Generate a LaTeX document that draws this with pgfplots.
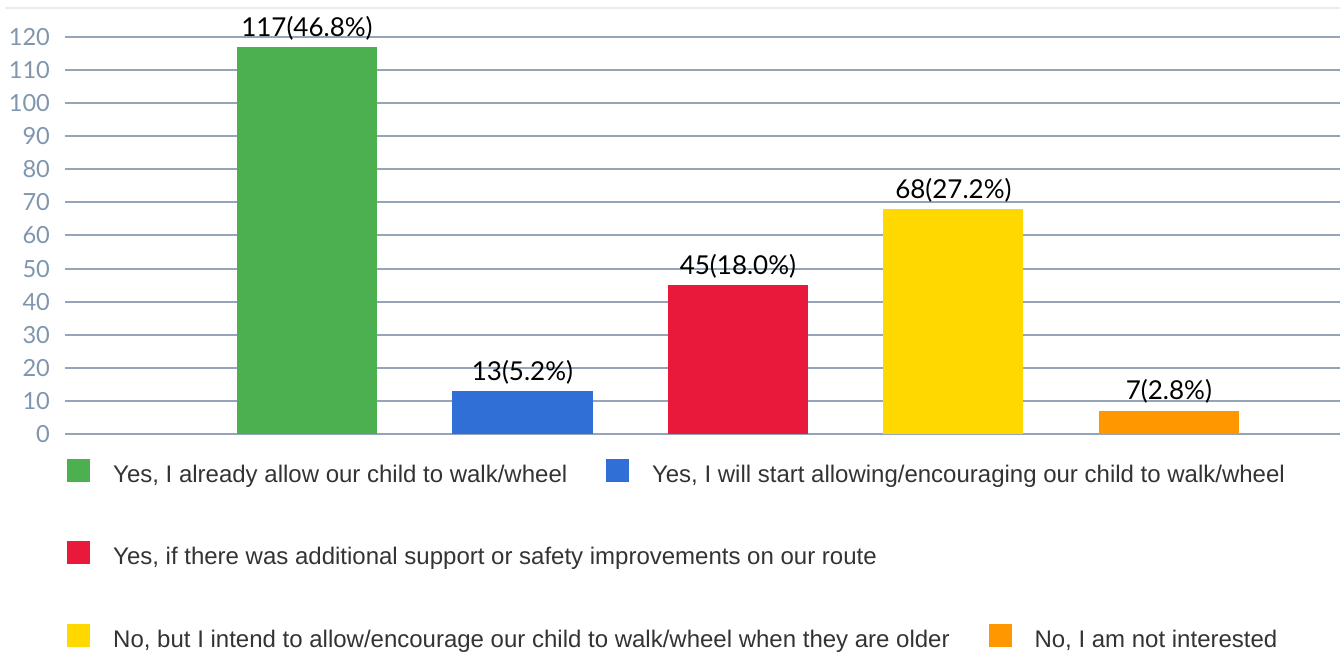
\documentclass[border=0pt]{standalone}
\usepackage{fontspec}
\setmainfont{Lato}
\newfontfamily\legendfont{Liberation Sans}
\usepackage{pgfplots}
\pgfplotsset{compat=1.18}

\definecolor{cgreen}{HTML}{4CAF50}
\definecolor{cblue}{HTML}{2F6FD6}
\definecolor{cred}{HTML}{E8193A}
\definecolor{cyellow}{HTML}{FFD800}
\definecolor{corange}{HTML}{FF9800}
\definecolor{tickgray}{HTML}{7F96AE}
\definecolor{gridgray}{HTML}{95A5B7}
\definecolor{legtext}{HTML}{333333}

% shared frame: 1px of the reference = 0.5pt
\pgfplotsset{
  frame/.style={width=637.5pt, height=198.5pt, scale only axis,
    xmin=-0.123, xmax=5.794, ymin=0, ymax=120},
  bar/.style={ybar, bar width=0.65, bar shift=0pt, draw=none, fill=#1,
    nodes near coords, point meta=explicit symbolic,
    every node near coord/.append style={font=\fontsize{13}{15}\selectfont, text=black}},
  legrow/.style 2 args={frame, hide axis, legend columns=-1,
    legend style={at={(rel axis cs:#1,#2)}, anchor=west, draw=none, fill=none,
      inner sep=0pt, nodes={inner sep=0pt},
      font=\legendfont\fontsize{12}{14}\selectfont, text=legtext,
      /tikz/every odd column/.append style={column sep=11.5pt},
      /tikz/every even column/.append style={column sep=19.5pt}},
    legend image code/.code={\fill[##1] (0pt,-3pt) rectangle (11pt,8pt);}},
}

\begin{document}
\begin{tikzpicture}
\begin{axis}[frame, clip=false,
    axis line style={draw=none},
    xtick=\empty, ytick={0,10,...,120},
    major tick length=0pt,
    ymajorgrids, major grid style={gridgray, line width=1pt},
    /pgf/number format/assume math mode=true,
    yticklabel style={font=\fontsize{11.8}{13}\selectfont, text=tickgray, xshift=-4pt},
]
\coordinate (O) at (rel axis cs:0,0);
\addplot[bar=cgreen] coordinates {(1,117) [117(46.8\%)]};
\addplot[bar=cblue] coordinates {(2,13) [13(5.2\%)]};
\addplot[bar=cred] coordinates {(3,45) [45(18.0\%)]};
\addplot[bar=cyellow] coordinates {(4,68) [68(27.2\%)]};
\addplot[bar=corange] coordinates {(5,7) [7(2.8\%)]};
\end{axis}

\begin{axis}[legrow={0.0016}{-0.0964}]
\addlegendimage{cgreen}\addlegendentry{Yes, I already allow our child to walk/wheel}
\addlegendimage{cblue}\addlegendentry{Yes, I will start allowing/encouraging our child to walk/wheel}
\end{axis}
\begin{axis}[legrow={0.0016}{-0.303}]
\addlegendimage{cred}\addlegendentry{Yes, if there was additional support or safety improvements on our route}
\end{axis}
\begin{axis}[legrow={0.0016}{-0.511}]
\addlegendimage{cyellow}\addlegendentry{No, but I intend to allow/encourage our child to walk/wheel when they are older}
\addlegendimage{corange}\addlegendentry{No, I am not interested}
\end{axis}

\draw[black!8, line width=0.8pt] (O) ++(-30pt,213pt) -- ++(667.5pt,0);
\pgfresetboundingbox
\path[use as bounding box] (O) ++(-32.5pt,-111pt) rectangle ++(670pt,328pt);
\end{tikzpicture}
\end{document}
